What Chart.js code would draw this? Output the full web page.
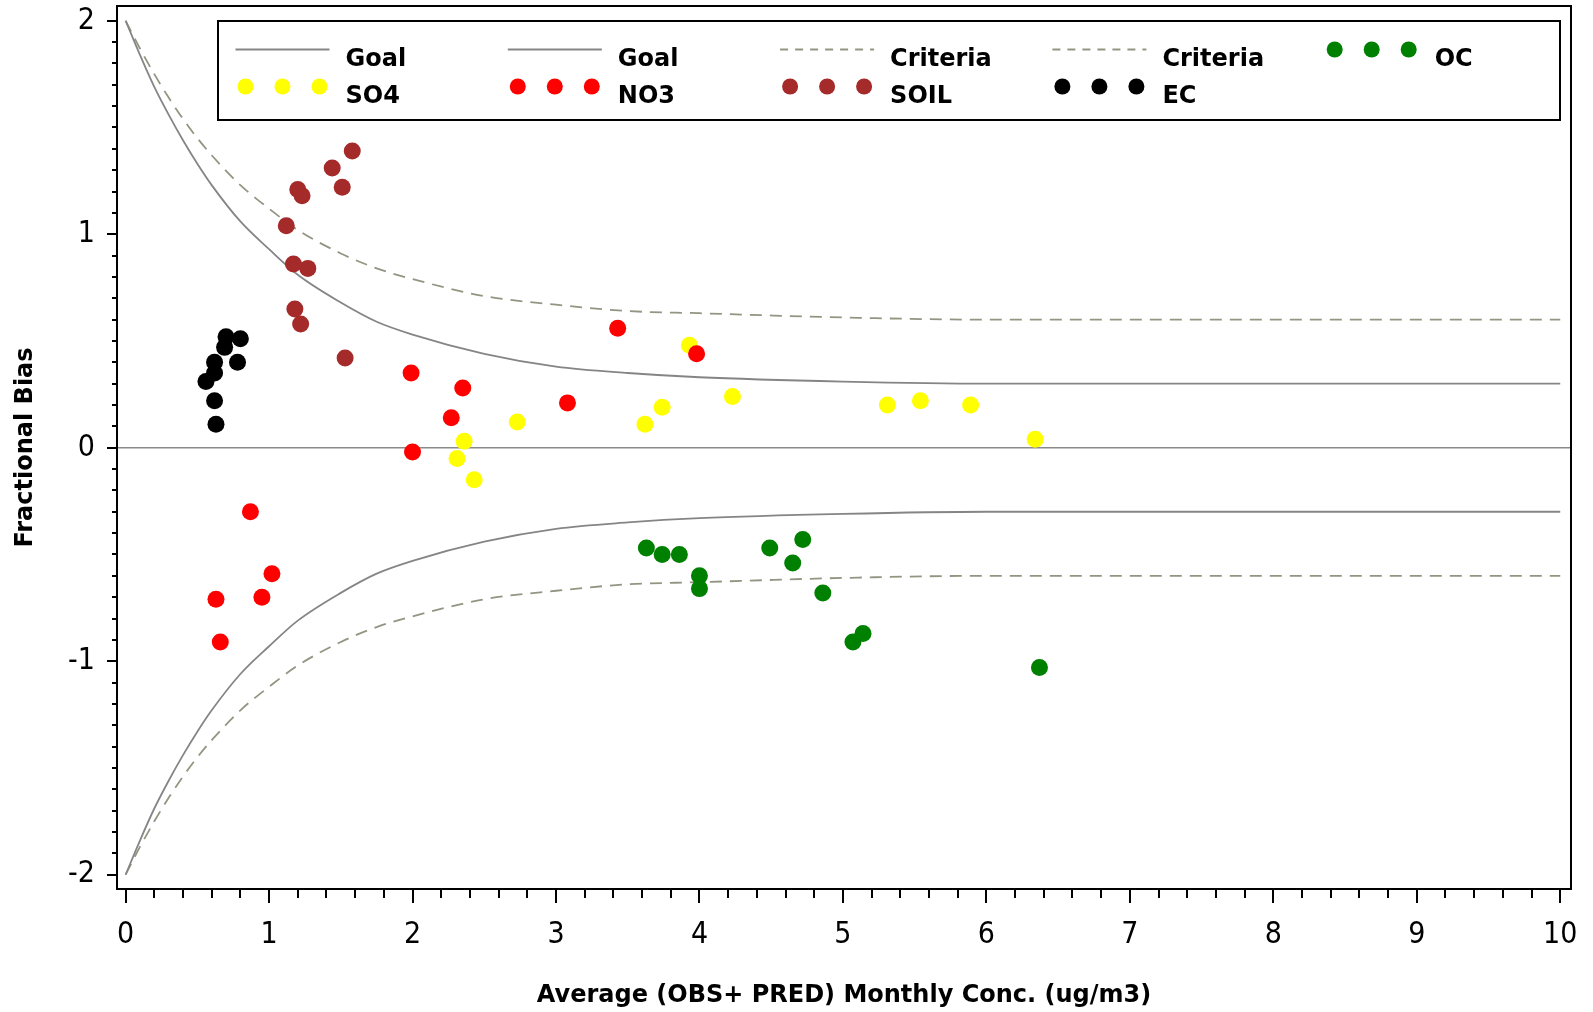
<!DOCTYPE html>
<html>
<head>
<meta charset="utf-8">
<title>Fractional Bias vs Average Monthly Concentration</title>
<script src="https://cdn.jsdelivr.net/npm/chart.js@4.4.1/dist/chart.umd.min.js"></script>
<style>
  html, body { margin: 0; padding: 0; background: #fff; }
  #wrap { width: 1593px; height: 1012px; }
</style>
</head>
<body>
<div id="wrap"><canvas id="fb-chart" width="1593" height="1012"></canvas></div>
<script>
// goal / criteria envelopes
const curveX        = [0, 0.1, 0.2, 0.3, 0.4, 0.5, 0.6, 0.8, 1, 1.2, 1.5, 1.75, 2, 2.5, 3, 3.5, 4, 5, 6, 7, 8, 9, 10];
const goalUpper     = [2.00, 1.84, 1.69, 1.56, 1.44, 1.33, 1.23, 1.06, 0.93, 0.81, 0.68, 0.59, 0.53, 0.44, 0.38, 0.35, 0.33, 0.31, 0.30, 0.30, 0.30, 0.30, 0.30];
const goalLower     = [-2.00, -1.84, -1.69, -1.56, -1.44, -1.33, -1.23, -1.06, -0.93, -0.81, -0.68, -0.59, -0.53, -0.44, -0.38, -0.35, -0.33, -0.31, -0.30, -0.30, -0.30, -0.30, -0.30];
const criteriaUpper = [2.00, 1.87, 1.75, 1.64, 1.54, 1.45, 1.37, 1.23, 1.12, 1.02, 0.91, 0.84, 0.79, 0.71, 0.67, 0.64, 0.63, 0.61, 0.60, 0.60, 0.60, 0.60, 0.60];
const criteriaLower = [-2.00, -1.87, -1.75, -1.64, -1.54, -1.45, -1.37, -1.23, -1.12, -1.02, -0.91, -0.84, -0.79, -0.71, -0.67, -0.64, -0.63, -0.61, -0.60, -0.60, -0.60, -0.60, -0.60];

// monthly species points: x = average (obs+pred) conc, y = fractional bias
const ocX   = [3.63, 3.74, 3.86, 4.00, 4.00, 4.49, 4.72, 4.65, 4.86, 5.07, 5.14, 6.37];
const ocY   = [-0.47, -0.50, -0.50, -0.60, -0.66, -0.47, -0.43, -0.54, -0.68, -0.91, -0.87, -1.03];
const so4X  = [3.93, 4.23, 3.74, 3.62, 2.73, 2.36, 2.31, 2.43, 5.31, 5.54, 5.89, 6.34];
const so4Y  = [0.48, 0.24, 0.19, 0.11, 0.12, 0.03, -0.05, -0.15, 0.20, 0.22, 0.20, 0.04];
const no3X  = [1.99, 2.35, 2.27, 2.00, 3.08, 3.43, 3.98, 0.87, 1.02, 0.95, 0.63, 0.66];
const no3Y  = [0.35, 0.28, 0.14, -0.02, 0.21, 0.56, 0.44, -0.30, -0.59, -0.70, -0.71, -0.91];
const soilX = [1.58, 1.44, 1.51, 1.20, 1.23, 1.12, 1.17, 1.27, 1.18, 1.22, 1.53];
const soilY = [1.39, 1.31, 1.22, 1.21, 1.18, 1.04, 0.86, 0.84, 0.65, 0.58, 0.42];
const ecX   = [0.63, 0.62, 0.56, 0.62, 0.62, 0.70, 0.80, 0.78, 0.69];
const ecY   = [0.11, 0.22, 0.31, 0.35, 0.40, 0.52, 0.51, 0.40, 0.47];

const xMajor = [0, 1, 2, 3, 4, 5, 6, 7, 8, 9, 10];
const yMajor = [-2, -1, 0, 1, 2];

const TICK_FONT = "'Liberation Sans Narrow', 'DejaVu Sans Condensed', 'Arial Narrow', sans-serif";
const TEXT_FONT = "'DejaVu Sans', 'Liberation Sans', sans-serif";

const pts = (xs, ys) => xs.map((x, i) => ({ x, y: ys[i] }));

// minor ticks: every 0.2 on x, every 0.1 on y
const xTicks = [];
for (let i = 0; i <= 50; i++) xTicks.push(Math.round(i * 2) / 10);
const yTicks = [];
for (let i = -20; i <= 20; i++) yTicks.push(Math.round(i) / 10);

const curve = (label, data, color, dash) => ({
  label, data, showLine: true, pointRadius: 0, borderColor: color, borderWidth: 1.8,
  borderDash: dash, cubicInterpolationMode: 'monotone', order: 10,
});
const dots = (label, data, color, order) => ({
  label, data, showLine: false, pointRadius: 8.5, pointBorderWidth: 0,
  backgroundColor: color, pointBackgroundColor: color, borderColor: color, order,
});

const datasets = [
  curve('Goal', pts(curveX, goalUpper), '#858585', []),
  curve('Goal', pts(curveX, goalLower), '#858585', []),
  curve('Criteria', pts(curveX, criteriaUpper), '#939582', [12, 8]),
  curve('Criteria', pts(curveX, criteriaLower), '#939582', [12, 8]),
  dots('OC', pts(ocX, ocY), '#008000', 1),
  dots('SO4', pts(so4X, so4Y), '#ffff00', 5),
  dots('NO3', pts(no3X, no3Y), '#ff0000', 4),
  dots('SOIL', pts(soilX, soilY), '#a52a2a', 3),
  dots('EC', pts(ecX, ecY), '#000000', 2),
];

// frame, tick marks and the in-plot legend box
const decor = {
  id: 'decor',
  afterDraw(chart) {
    const { ctx, chartArea: a, scales: { x, y } } = chart;
    ctx.save();
    ctx.strokeStyle = '#000';
    ctx.lineWidth = 2;
    ctx.setLineDash([]);
    ctx.strokeRect(a.left, a.top, a.right - a.left, a.bottom - a.top);

    xTicks.forEach((v) => {
      const px = Math.round(x.getPixelForValue(v));
      const len = xMajor.includes(v) ? 14 : 9;
      ctx.beginPath(); ctx.moveTo(px, a.bottom); ctx.lineTo(px, a.bottom + len); ctx.stroke();
    });
    yTicks.forEach((v) => {
      const py = Math.round(y.getPixelForValue(v));
      const len = yMajor.includes(v) ? 10 : 5;
      ctx.beginPath(); ctx.moveTo(a.left, py); ctx.lineTo(a.left - len, py); ctx.stroke();
    });

    // legend
    ctx.strokeRect(218, 21, 1342, 99);
    ctx.font = `bold 24px ${TEXT_FONT}`;
    ctx.textBaseline = 'alphabetic';
    ctx.textAlign = 'left';
    chart.data.datasets.forEach((ds, i) => {
      const x0 = 235.5 + (i % 5) * 272.3;
      const y0 = i < 5 ? 49.5 : 86.5;
      if (ds.showLine) {
        ctx.strokeStyle = ds.borderColor;
        ctx.lineWidth = ds.borderWidth;
        ctx.setLineDash(ds.borderDash.length ? [8, 7] : []);
        ctx.beginPath(); ctx.moveTo(x0, y0); ctx.lineTo(x0 + 94, y0); ctx.stroke();
      } else {
        ctx.fillStyle = ds.backgroundColor;
        for (let k = 0; k < 3; k++) {
          ctx.beginPath(); ctx.arc(x0 + 10 + k * 37, y0, 8, 0, Math.PI * 2); ctx.fill();
        }
      }
      ctx.fillStyle = '#000';
      ctx.fillText(ds.label, x0 + 110, y0 + 16);
    });
    ctx.restore();
  },
};

new Chart(document.getElementById('fb-chart'), {
  type: 'scatter',
  data: { datasets },
  plugins: [decor],
  options: {
    responsive: false,
    animation: false,
    events: [],
    layout: { autoPadding: false, padding: { top: 6, right: 22, left: 0, bottom: 0 } },
    plugins: { legend: { display: false }, tooltip: { enabled: false } },
    scales: {
      x: {
        type: 'linear', min: -0.06, max: 10.075,
        afterBuildTicks: (s) => { s.ticks = xTicks.map((v) => ({ value: v })); },
        afterFit: (s) => { s.height = 123; s.paddingLeft = 0; s.paddingRight = 0; },
        ticks: {
          autoSkip: false, maxRotation: 0, padding: 28, color: '#000',
          font: { family: TICK_FONT, size: 30 },
          callback: (v) => (xMajor.includes(v) ? String(v) : ''),
        },
        grid: { display: false, drawTicks: false },
        border: { display: false },
        title: {
          display: true, text: 'Average (OBS+ PRED) Monthly Conc. (ug/m3)', color: '#000',
          font: { family: TEXT_FONT, size: 24, weight: 'bold' }, padding: { top: 0, bottom: 2 },
        },
      },
      y: {
        type: 'linear', min: -2.067, max: 2.069,
        afterBuildTicks: (s) => { s.ticks = yTicks.map((v) => ({ value: v })); },
        afterFit: (s) => { s.width = 117; s.paddingTop = 0; s.paddingBottom = 0; },
        ticks: {
          autoSkip: false, padding: 22, color: '#000',
          font: { family: TICK_FONT, size: 30 },
          callback: (v) => (yMajor.includes(v) ? String(v) : ''),
        },
        grid: {
          drawTicks: false,
          color: (c) => (c.tick && c.tick.value === 0 ? '#8a8a8a' : 'rgba(0,0,0,0)'),
          lineWidth: 1.5,
        },
        border: { display: false },
        title: {
          display: true, text: 'Fractional Bias', color: '#000',
          font: { family: TEXT_FONT, size: 24, weight: 'bold' }, padding: { top: 11, bottom: 0 },
        },
      },
    },
  },
});
</script>
</body>
</html>
